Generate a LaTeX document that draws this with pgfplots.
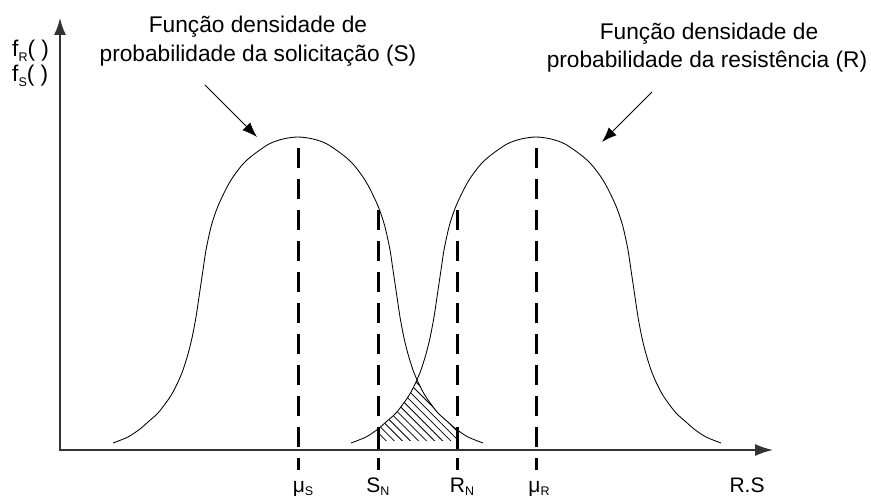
\documentclass[border=0pt]{standalone}
\usepackage{fontspec}
\setmainfont{Liberation Sans}
\usepackage{pgfplots}
\pgfplotsset{compat=1.18}
\usepgfplotslibrary{fillbetween}
\usetikzlibrary{arrows.meta,patterns.meta}

\newcommand\lbl{\fontsize{22.7bp}{29bp}\selectfont}
\newcommand\tick{\fontsize{21bp}{24bp}\selectfont}
\newcommand\sub[1]{\raisebox{-0.35ex}{\fontsize{12.5bp}{12.5bp}\selectfont #1}}

\begin{document}
\begin{tikzpicture}
\begin{axis}[
  width=871bp, height=498bp, scale only axis,
  xmin=0, xmax=871, ymin=-48, ymax=450,
  hide axis, clip=false,
]
% canvas extent
\addplot[draw=none] coordinates {(0,-48) (871,450)};

% density of the load S (mean 298)
\addplot[name path=S, smooth, line width=0.85bp, black] coordinates {
  (113,7) (128,13) (140,21) (148,28) (158,37) (168,50) (173,58) (178,68)
  (183,80) (188,96) (192,112) (196,133) (199,153) (203,180) (206,200)
  (210,219) (213,230) (218,244) (226,261) (233,273) (243,286) (253,295)
  (269,306) (283,311) (298,313) (313,311) (327,306) (343,295) (353,286)
  (363,273) (370,261) (378,244) (383,230) (386,219) (390,200) (393,180)
  (397,153) (400,133) (404,112) (408,96) (413,80) (418,68) (423,58)
  (428,50) (438,37) (448,28) (456,21) (468,13) (483,7)
};

% density of the resistance R (mean 536)
\addplot[name path=R, smooth, line width=0.85bp, black] coordinates {
  (351,7) (366,13) (378,21) (386,28) (396,37) (406,50) (411,58) (416,68)
  (421,80) (426,96) (430,112) (434,133) (437,153) (441,180) (444,200)
  (448,219) (451,230) (456,244) (464,261) (471,273) (481,286) (491,295)
  (507,306) (521,311) (536,313) (551,311) (565,306) (581,295) (591,286)
  (601,273) (608,261) (616,244) (621,230) (624,219) (628,200) (631,180)
  (635,153) (638,133) (642,112) (646,96) (651,80) (656,68) (661,58)
  (666,50) (676,37) (686,28) (694,21) (706,13) (721,7)
};

% failure region between S_N and R_N
\addplot[name path=base, draw=none] coordinates {(340,9) (500,9)};
\addplot[pattern={Lines[angle=135, distance=5.7bp, line width=0.8bp]}, draw=none]
  fill between[of=R and base, soft clip={domain=378:417}];
\addplot[pattern={Lines[angle=135, distance=5.7bp, line width=0.8bp]}, draw=none]
  fill between[of=S and base, soft clip={domain=417:457}];

% means and nominal values
\pgfplotsset{mark line/.style={line width=3bp, black, dash pattern=on 20bp off 11bp, dash phase=8bp}}
\addplot[mark line] coordinates {(298,-20) (298,313)};
\addplot[mark line] coordinates {(378,-20) (378,244)};
\addplot[mark line] coordinates {(457,-20) (457,246)};
\addplot[mark line] coordinates {(536,-20) (536,313)};
\addplot[line width=3bp, black] coordinates {(378,0) (378,21)};
\addplot[line width=3bp, black] coordinates {(457,0) (457,20.5)};

% axes
\draw[line width=1.6bp, black!80, {Latex[length=17bp,width=12bp]}-{Latex[length=18bp,width=12bp]}]
  (60,432) -- (60,0) -- (773,0);

% pointers
\draw[line width=0.9bp, -{Latex[length=15bp,width=11bp]}] (205,365) -- (257,313);
\draw[line width=0.9bp, -{Latex[length=15bp,width=11bp]}] (652,358) -- (602,308);

% titles
\node[anchor=base, font=\lbl, inner sep=0pt] at (258,417) {Função densidade de};
\node[anchor=base, font=\lbl, inner sep=0pt] at (258,388) {probabilidade da solicitação (S)};
\node[anchor=base, font=\lbl, inner sep=0pt] at (709,410) {Função densidade de};
\node[anchor=base, font=\lbl, inner sep=0pt] at (707,382) {probabilidade da resistência (R)};

% y label
\node[anchor=base west, font=\lbl, inner sep=0pt] at (12,393) {f\sub{R}( )};
\node[anchor=base west, font=\lbl, inner sep=0pt] at (12,368) {f\sub{S}( )};

% x labels
\node[anchor=base, font=\tick, inner sep=0pt] at (303,-42) {μ\sub{S}};
\node[anchor=base, font=\tick, inner sep=0pt] at (378,-42) {S\sub{N}};
\node[anchor=base, font=\tick, inner sep=0pt] at (462,-42) {R\sub{N}};
\node[anchor=base, font=\tick, inner sep=0pt] at (539,-42) {μ\sub{R}};
\node[anchor=base, font=\tick, inner sep=0pt] at (747,-42) {R.S};
\end{axis}
\end{tikzpicture}
\end{document}
